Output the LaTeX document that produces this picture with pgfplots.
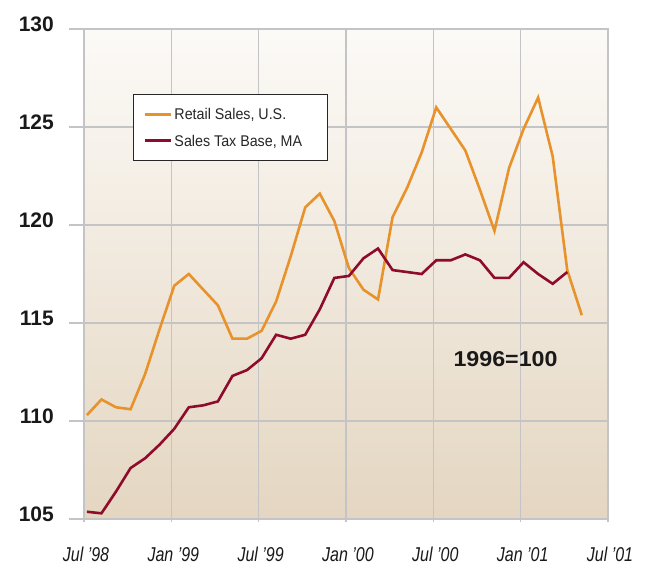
\documentclass[border=0pt]{standalone}
\usepackage{fontspec}
\setmainfont{Liberation Sans}
\newfontfamily\condfont[FakeStretch=0.8]{Liberation Sans}
\newfontfamily\legfont[FakeStretch=0.92]{Liberation Sans}
\newfontfamily\widefont[FakeStretch=1.08]{Liberation Sans}
\usepackage{pgfplots}
\pgfplotsset{compat=1.18}

\definecolor{retail}{HTML}{E8922B}
\definecolor{taxbase}{HTML}{8E0B2C}
\definecolor{gridc}{HTML}{C4C4C6}
\definecolor{bgtop}{HTML}{FCFAF7}
\definecolor{bgbot}{HTML}{E4D6C1}

\begin{document}
\begin{tikzpicture}
\begin{axis}[
    scale only axis,
    width=524pt,
    height=490pt,
    xmin=0, xmax=36,
    ymin=105, ymax=130,
    xtick={0,6,12,18,24,30,36},
    xticklabels={Jul ’98, Jan ’99, Jul ’99, Jan ’00, Jul ’00, Jan ’01, Jul ’01},
    ytick={105,110,115,120,125,130},
    major tick length=0pt,
    grid=major,
    major grid style={gridc, line width=1.2pt},
    axis line style={gridc, line width=1.2pt},
    axis background/.style={top color=bgtop, bottom color=bgbot},
    xticklabel style={font=\condfont\itshape\fontsize{20}{20}\selectfont,
        anchor=north, inner sep=0pt, yshift=-28pt, xshift=2pt, text=black!90},
    yticklabel style={font=\bfseries\fontsize{21}{21}\selectfont,
        anchor=east, inner sep=0pt, xshift=-30pt, yshift=5pt, text=black!90,
        /pgf/number format/assume math mode=true},
    clip=false,
    legend style={at={(rel axis cs:0.0935,0.867)}, anchor=north west,
        draw=black!85, line width=1pt, fill=white,
        font=\legfont\fontsize{15.5}{15.5}\selectfont, text=black!85,
        inner xsep=10pt, inner ysep=12pt, row sep=11pt,
        nodes={inner sep=2pt, text depth=0pt}},
    legend cell align=left,
    legend image code/.code={\draw[#1, line width=3pt] (0pt,0pt) -- (26pt,0pt);},
]
\addplot[retail, line width=2.6pt] coordinates {
(0.2,110.3) (1.2,111.1) (2.2,110.7) (3.2,110.6) (4.2,112.4) (5.2,114.7)
(6.2,116.9) (7.2,117.5) (8.2,116.7) (9.2,115.9) (10.2,114.2) (11.2,114.2)
(12.2,114.6) (13.2,116.1) (14.2,118.4) (15.2,120.9) (16.2,121.6) (17.2,120.2)
(18.2,117.8) (19.2,116.7) (20.2,116.2) (21.2,120.4) (22.2,121.9) (23.2,123.7)
(24.2,126.0) (25.2,124.9) (26.2,123.8) (27.2,121.8) (28.2,119.7) (29.2,122.9)
(30.2,124.9) (31.2,126.5) (32.2,123.5) (33.2,117.7) (34.2,115.4)
};
\addlegendentry{Retail Sales, U.S.}
\addplot[taxbase, line width=2.6pt] coordinates {
(0.2,105.37) (1.2,105.29) (2.2,106.4) (3.2,107.6) (4.2,108.1) (5.2,108.8)
(6.2,109.6) (7.2,110.7) (8.2,110.8) (9.2,111.0) (10.2,112.3) (11.2,112.6)
(12.2,113.2) (13.2,114.4) (14.2,114.2) (15.2,114.4) (16.2,115.7) (17.2,117.3)
(18.2,117.4) (19.2,118.3) (20.2,118.8) (21.2,117.7) (22.2,117.6) (23.2,117.5)
(24.2,118.2) (25.2,118.2) (26.2,118.5) (27.2,118.2) (28.2,117.3) (29.2,117.3)
(30.2,118.1) (31.2,117.5) (32.2,117.0) (33.2,117.6)
};
\addlegendentry{Sales Tax Base, MA\hspace*{13pt}}
\pgfplotsinvokeforeach{105,110,115,120,125,130}{
  \draw[gridc, line width=1.2pt] (axis cs:0,#1) -- ++(-15pt,0pt);
}
\pgfplotsinvokeforeach{0,6,12,18,24,30,36}{
  \draw[gridc, line width=1.2pt] (axis cs:#1,105) -- ++(0pt,-3pt);
}
\node[font=\widefont\bfseries\fontsize{21.5}{21.5}\selectfont, inner sep=0pt, text=black!90]
  at (axis cs:28.96,113.14) {1996=100};
\coordinate (ll) at (rel axis cs:0,0);
\coordinate (ur) at (rel axis cs:1,1);
\end{axis}
\pgfresetboundingbox
\path[use as bounding box] ([shift={(-84pt,-46pt)}]ll) rectangle ([shift={(37pt,29pt)}]ur);
\end{tikzpicture}
\end{document}
